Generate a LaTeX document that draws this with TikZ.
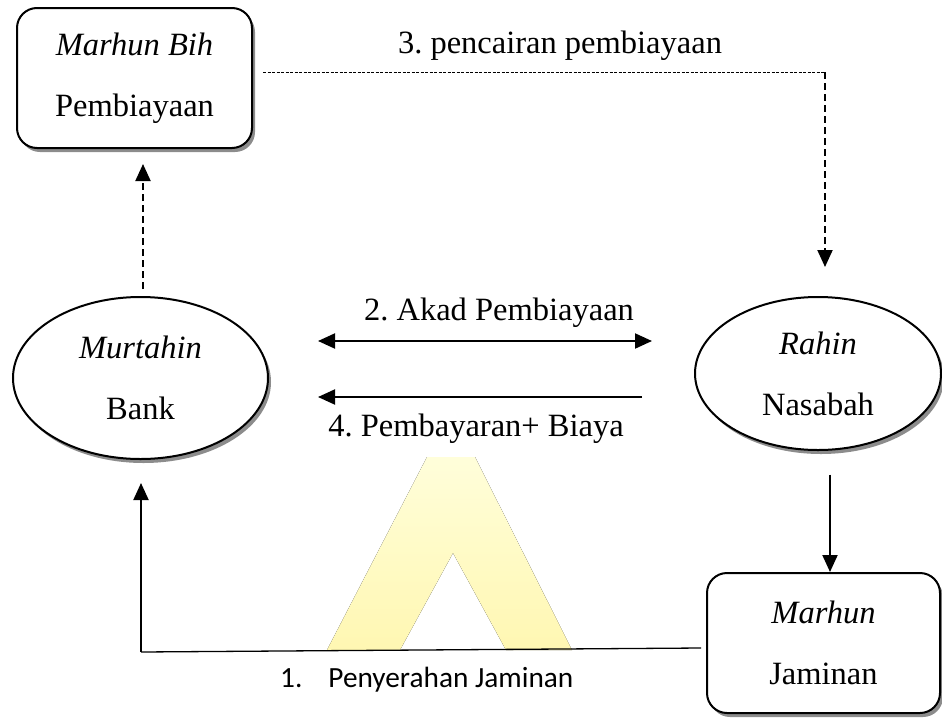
\documentclass[tikz,border=0pt]{standalone}
\usepackage{fontspec}
\setmainfont{Liberation Serif}
\newfontfamily\calfont{Carlito}
\usetikzlibrary{shapes.geometric,arrows.meta,shadows,calc}
\definecolor{wmtop}{RGB}{255,254,218}
\definecolor{wmbot}{RGB}{255,247,178}
\definecolor{shadowgray}{RGB}{140,140,140}
\frenchspacing
\begin{document}
\begin{tikzpicture}[x=1pt,y=-1pt,
  every node/.style={font=\fontsize{32.5pt}{61pt}\selectfont},
  shad/.style={drop shadow={shadow xshift=3pt,shadow yshift=-4pt,fill=shadowgray,opacity=1}},
  rbox/.style={draw,line width=2pt,rounded corners=20pt,fill=white,shad,align=center,inner sep=0pt},
  ell/.style={ellipse,draw,line width=2pt,fill=white,shad,align=center,inner sep=0pt},
  tri/.tip={Triangle[length=17pt,width=15pt]},
  arr/.style={line width=2pt,-tri},
  dbl/.style={line width=2pt,tri-tri},
  dasharr/.style={line width=2pt,dash pattern=on 7pt off 4pt,-tri},
  dotline/.style={line width=1pt,dash pattern=on 3pt off 1.5pt},
  thinline/.style={line width=1.3pt},
  lbl/.style={anchor=base,inner sep=0pt},
  callbl/.style={anchor=base west,inner sep=0pt,font=\calfont\fontsize{29.3pt}{35pt}\selectfont}
]
\useasboundingbox (0,0) rectangle (942,723);

% watermark
\fill[top color=wmtop,bottom color=wmbot] (427,457) -- (475,457) -- (572,650) -- (506,650) -- (453,553) -- (400,650) -- (327,650) -- cycle;

% nodes
\node[rbox,minimum width=235pt,minimum height=140pt] (mb) at (134.5,78) {\textit{Marhun Bih}\\Pembiayaan};
\node[ell,minimum width=255pt,minimum height=162pt] (bank) at (140.5,378) {\textit{Murtahin}\\Bank};
\node[ell,minimum width=246pt,minimum height=153pt] (rahin) at (818,373.5) {\textit{Rahin}\\Nasabah};
\node[rbox,minimum width=233pt,minimum height=140pt] (jam) at (823.5,643) {\textit{Marhun}\\Jaminan};

\coordinate (c3) at (825,72);
\coordinate (c1) at (141,652);

% connectors
\draw[dasharr] ($(bank.north)+(2.5,-7)$) -- ($(mb.south)+(8.5,15)$);
\draw[dotline] ($(mb.east)+(10,-6)$) -- (c3);
\draw[dasharr] (c3) -- ($(rahin.north)+(7,-29)$);
\draw[dbl] ($(bank.east)+(49,-37)$) -- ($(rahin.west)+(-42,-32.5)$);
\draw[arr] ($(rahin.west)+(-52,23.5)$) -- ($(bank.east)+(49,19)$);
\draw[arr] ($(rahin.south)+(12,23.5)$) -- ($(jam.north)+(6.5,0)$);
\draw[thinline] ($(jam.west)+(-5,5)$) -- (c1);
\draw[arr] (c1) -- ($(bank.south)+(0.5,23)$);

% labels
\node[lbl] (l3) at (560,53) {3. pencairan pembiayaan};
\node[lbl] (l2) at (499,320) {2. Akad Pembiayaan};
\node[lbl] (l4) at (476,436) {4. Pembayaran+ Biaya};
\node[callbl] (l1) at (280,687) {1.\hspace{26pt}Penyerahan Jaminan};
\end{tikzpicture}
\end{document}
